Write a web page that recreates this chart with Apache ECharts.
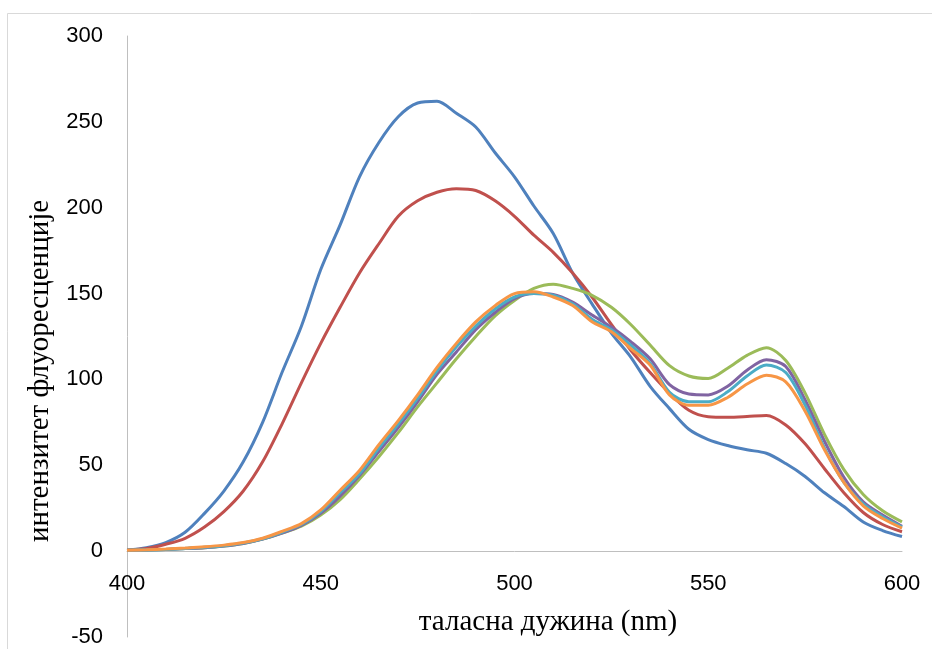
<!DOCTYPE html>
<html>
<head>
<meta charset="utf-8">
<script src="https://cdn.jsdelivr.net/npm/echarts@6/dist/echarts.min.js"></script>
<style>
html,body{margin:0;padding:0;background:#fff;}
#chart{width:932px;height:649px;}
</style>
</head>
<body>
<div id="chart"></div>
<script>
// wavelengths (nm)
const wavelengths = [400,405,410,415,420,425,430,435,440,445,450,455,460,465,470,475,480,485,490,495,500,505,510,515,520,525,530,535,540,545,550,555,560,565,570,575,580,585,590,595,600];
const blueSeries   = [0.5,2,5,11,22,35,52,75,104,131,164,190,218,238,253,261,262,255,247,232,218,201,185,162,144,127,113,96,83,71,65,61.5,59,57,51,43.5,34,26,17,12,8.5];
const redSeries    = [0.5,1.5,4,7.5,14,23,35,52,74,98,121,142,162,179,195,204,209,211,210,204,195,184,174,162,148,132,117,104,92,82,78.3,78,78.4,79,73.5,62.5,48,34,22.5,15.5,11.3];
const greenSeries  = [0.5,0.7,1,1.5,2,3,4.5,7,10.5,14.5,21,30,42,55,69,84,98,112,125,137,146,153,155.5,153,149,142,132,120,108,102,100.5,106.5,114,118.5,111,92,68,47.5,33,23.5,17];
const purpleSeries = [0.5,0.7,1,1.5,2,3,4.5,7,10.5,15,22,32,44,58,72,87,103,116,129,139,147,150,149.5,145,137.5,130.5,122,112,97,91.5,91,96,105.4,111.5,107.5,88,64,43,28.7,21,14.5];
const cyanSeries   = [0.5,0.7,1,1.6,2.2,3.2,4.7,7.2,11,15.5,23,34,45,60,74,89,105,119,131,141,148,150,149,144,135,129,120,109.5,92.5,87,87,92.8,102,108.4,104,85,60,40,27.5,20,14];
const orangeSeries = [0.5,0.8,1.2,1.8,2.5,3.5,5,7.5,11.5,16,24,35.5,47,62,76,91,107,121,133.5,143,150,151,148,143,133.6,127.8,118,108.4,91,85,85,89.5,97.3,102.5,98.6,81.5,59,40,26.4,19,13.4];

const seriesList = [
  {name:'s1', data: blueSeries,   color:'#4F81BD'},
  {name:'s2', data: redSeries,    color:'#C0504D'},
  {name:'s3', data: greenSeries,  color:'#9BBB59'},
  {name:'s4', data: purpleSeries, color:'#8064A2'},
  {name:'s5', data: cyanSeries,   color:'#4BACC6'},
  {name:'s6', data: orangeSeries, color:'#F79646'}
];

const chart = echarts.init(document.getElementById('chart'), null, {renderer:'canvas'});
chart.setOption({
  animation: false,
  backgroundColor: '#ffffff',
  grid: {left: 127, right: 30, top: 36, bottom: 12, containLabel: false, outerBoundsMode: 'none'},
  xAxis: {
    type: 'value', min: 400, max: 600, interval: 50,
    position: 'bottom', offset: -86,
    axisLine: {onZero: false, lineStyle: {color: '#bfbfbf', width: 1}},
    axisTick: {show: false},
    splitLine: {show: false},
    axisLabel: {margin: 22, color: '#000', fontFamily: 'Liberation Sans', fontSize: 22}
  },
  yAxis: {
    type: 'value', min: -50, max: 300, interval: 50,
    axisLine: {show: true, lineStyle: {color: '#bfbfbf', width: 1}},
    axisTick: {show: false},
    splitLine: {show: false},
    axisLabel: {margin: 24, color: '#000', fontFamily: 'Liberation Sans', fontSize: 22}
  },
  graphic: [
    {type:'rect', left: 5, top: 11, shape:{x:0,y:0,width:960,height:660}, style:{fill:'none', stroke:'#d9d9d9', lineWidth:1}, silent:true, z:-1},
    {type:'text', x: 548, y: 622, style:{text:'таласна дужина (nm)', font:'29px "Liberation Serif"', fill:'#000', textAlign:'center', textVerticalAlign:'middle'}},
    {type:'text', x: 40, y: 371, rotation: Math.PI/2, style:{text:'интензитет флуоресценције', font:'29px "Liberation Serif"', fill:'#000', textAlign:'center', textVerticalAlign:'middle'}}
  ],
  series: seriesList.map(s => ({
    name: s.name,
    type: 'line',
    data: wavelengths.map((w,i) => [w, s.data[i]]),
    showSymbol: false,
    smooth: 0.3,
    lineStyle: {color: s.color, width: 3},
    itemStyle: {color: s.color}
  }))
});
</script>
</body>
</html>
